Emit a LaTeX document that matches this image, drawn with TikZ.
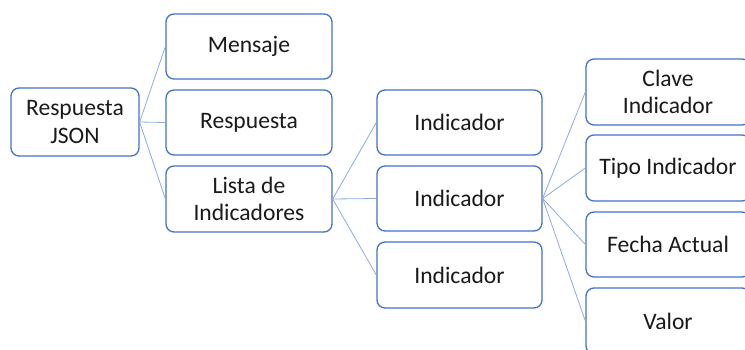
\documentclass[tikz,border=0pt]{standalone}
\usepackage{fontspec}
\setmainfont{Carlito}
\definecolor{boxblue}{HTML}{4472C4}
\definecolor{linkblue}{HTML}{8FAADC}
\definecolor{txt}{HTML}{1A1A1A}
\begin{document}
\begin{tikzpicture}[x=1pt,y=-1pt,
  box/.style={draw=boxblue, line width=1.3pt, rounded corners=8pt, fill=white,
    inner sep=0pt, align=center, text=txt,
    font=\fontsize{23.6}{27.5}\selectfont},
  link/.style={draw=linkblue, line width=0.8pt}]
\useasboundingbox (0,0) rectangle (745,349);
\clip (0,0) rectangle (745,349);
\node[box, minimum width=128pt, minimum height=68pt] (rj) at (75,122) {Respuesta\\JSON};
\node[box, minimum width=166pt, minimum height=65pt] (mens) at (249,46.5) {Mensaje};
\node[box, minimum width=166pt, minimum height=65pt] (resp) at (249,122.5) {Respuesta};
\node[box, minimum width=166pt, minimum height=66pt] (lista) at (249,199) {Lista de\\Indicadores};
\node[box, minimum width=165pt, minimum height=65pt] (ind1) at (459.5,122.5) {Indicador};
\node[box, minimum width=165pt, minimum height=65pt] (ind2) at (459.5,198.5) {Indicador};
\node[box, minimum width=165pt, minimum height=66pt] (ind3) at (459.5,275) {Indicador};
\node[box, minimum width=164pt, minimum height=66pt] (clave) at (668,92) {Clave\\Indicador};
\node[box, minimum width=164pt, minimum height=66pt] (tipo) at (668,168) {Tipo Indicador};
\node[box, minimum width=164pt, minimum height=65pt] (fecha) at (668,244.5) {Fecha Actual};
\node[box, minimum width=164pt, minimum height=66pt] (valor) at (668,321) {Valor};
\draw[link] (rj.east) -- (mens.west);
\draw[link] (rj.east) -- (resp.west);
\draw[link] (rj.east) -- (lista.west);
\draw[link] (lista.east) -- (ind1.west);
\draw[link] (lista.east) -- (ind2.west);
\draw[link] (lista.east) -- (ind3.west);
\draw[link] (ind2.east) -- (clave.west);
\draw[link] (ind2.east) -- (tipo.west);
\draw[link] (ind2.east) -- (fecha.west);
\draw[link] (ind2.east) -- (valor.west);
\end{tikzpicture}
\end{document}
